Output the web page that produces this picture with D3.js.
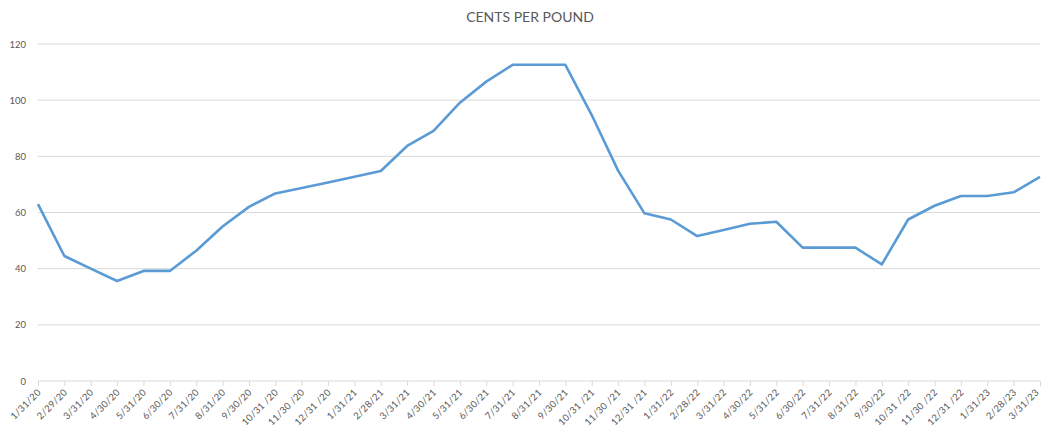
<!DOCTYPE html>
<html>
<head>
<meta charset="utf-8">
<script src="https://cdn.jsdelivr.net/npm/d3@7"></script>
<style>
  body { margin: 0; background: #fff; }
  svg text { font-family: Lato, "Open Sans", sans-serif; fill: #595959; }
</style>
</head>
<body>
<svg id="chart" width="1041" height="428"></svg>
<script>
// categories (month-end dates, as printed on the axis)
const dates = [
  '1/31/20', '2/29/20', '3/31/20', '4/30/20', '5/31/20', '6/30/20', '7/31/20', '8/31/20', '9/30/20',
  '10/31 /20', '11/30 /20', '12/31 /20',
  '1/31/21', '2/28/21', '3/31/21', '4/30/21', '5/31/21', '6/30/21', '7/31/21', '8/31/21', '9/30/21',
  '10/31 /21', '11/30 /21', '12/31 /21',
  '1/31/22', '2/28/22', '3/31/22', '4/30/22', '5/31/22', '6/30/22', '7/31/22', '8/31/22', '9/30/22',
  '10/31 /22', '11/30 /22', '12/31 /22',
  '1/31/23', '2/28/23', '3/31/23',
];

// cents per pound
const cents = [
  63, 44.5, 40, 35.6, 39.2, 39.2, 46.4, 55, 62,
  66.8, 68.7, 70.7,
  72.7, 74.8, 83.7, 89.1, 99.1, 106.6, 112.6, 112.6, 112.6,
  94.7, 74.9, 59.7,
  57.5, 51.6, 53.8, 56, 56.7, 47.5, 47.5, 47.5, 41.5,
  57.5, 62.4, 65.9,
  65.9, 67.2, 72.7,
];

const yTicks = [0, 20, 40, 60, 80, 100, 120];

const margin = { top: 44, right: 1, bottom: 47, left: 38 };
const width = 1041;
const height = 428;

const svg = d3.select('#chart');

const x = d3.scalePoint()
  .domain(dates)
  .range([margin.left, width - margin.right]);

const y = d3.scaleLinear()
  .domain([0, 120])
  .range([height - margin.bottom, margin.top]);

// title
svg.append('text')
  .attr('x', 530)
  .attr('y', 22)
  .attr('text-anchor', 'middle')
  .style('font-size', '14px')
  .text('CENTS PER POUND');

// gridlines
svg.append('g')
  .selectAll('line')
  .data(yTicks.filter((t) => t > 0))
  .join('line')
    .attr('x1', margin.left)
    .attr('x2', width - margin.right)
    .attr('y1', (d) => y(d))
    .attr('y2', (d) => y(d))
    .attr('stroke', '#d9d9d9')
    .attr('stroke-width', 1);

// y axis labels
const yAxis = svg.append('g')
  .attr('transform', `translate(${margin.left},0)`)
  .call(d3.axisLeft(y).tickValues(yTicks).tickSize(0).tickPadding(12));
yAxis.select('.domain').remove();
yAxis.selectAll('text')
  .style('font-size', '9.5px')
  .style('fill', '#595959');

// x axis
const xAxis = svg.append('g')
  .attr('transform', `translate(0,${y(0)})`)
  .call(d3.axisBottom(x).tickSize(5).tickSizeOuter(0));
xAxis.select('.domain')
  .attr('stroke', '#d9d9d9')
  .attr('d', `M${margin.left},0H${width - margin.right}`);
xAxis.selectAll('.tick line')
  .attr('stroke', '#d9d9d9');
xAxis.selectAll('.tick text')
  .style('font-size', '9.5px')
  .style('letter-spacing', '0.3px')
  .attr('text-anchor', 'end')
  .attr('dy', null)
  .attr('y', null)
  // last label is nudged left so it stays inside the frame
  .attr('transform', (d, i) => `translate(${i === dates.length - 1 ? -1 : 3},12) rotate(-45)`);

// line
const line = d3.line()
  .x((d, i) => x(dates[i]))
  .y((d) => y(d));

svg.append('path')
  .datum(cents)
  .attr('fill', 'none')
  .attr('stroke', '#5b9bd5')
  .attr('stroke-width', 2.6)
  .attr('stroke-linejoin', 'round')
  .attr('d', line);
</script>
</body>
</html>
